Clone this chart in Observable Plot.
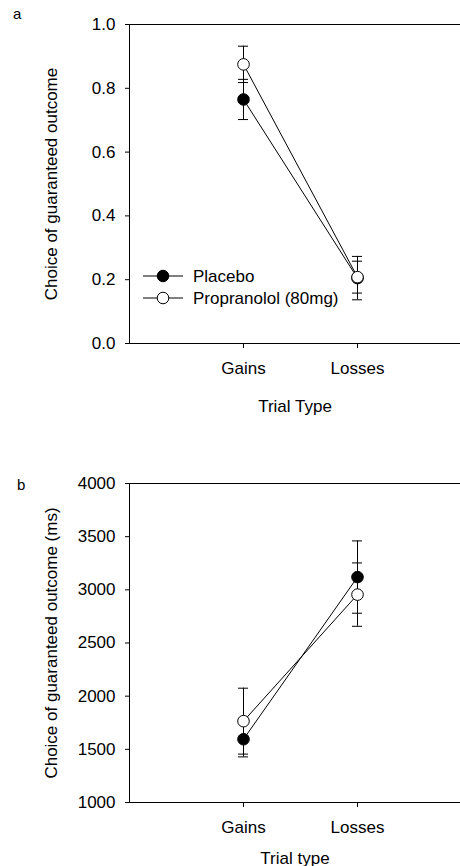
<!DOCTYPE html>
<html><head><meta charset="utf-8">
<script src="https://cdn.jsdelivr.net/npm/d3@7"></script>
<script src="https://cdn.jsdelivr.net/npm/@observablehq/plot@0.6"></script>
<style>
html,body{margin:0;padding:0;background:#fff;overflow:hidden;}
#wrap{position:relative;width:460px;height:866px;font-family:"Liberation Sans",Arial,Helvetica,sans-serif;color:#000;}
.panel{position:absolute;left:0;}
.tag{position:absolute;font-size:15px;line-height:1;}
.legend{position:absolute;left:0;top:0;pointer-events:none;}
</style></head><body><div id="wrap"></div>
<script>
// ---- data ----
const categories = ["Gains", "Losses"];
const series = ["Placebo", "Propranolol (80mg)"];
const seriesFill = ["black", "white"];

// panel a: proportion choosing guaranteed outcome
const choicePlacebo = [0.765, 0.205];
const choicePlaceboErr = [0.063, 0.068];
const choicePropranolol = [0.875, 0.208];
const choicePropranololErr = [0.057, 0.050];
const choiceTicks = [0, 0.2, 0.4, 0.6, 0.8, 1.0];

// panel b: response time (ms)
const rtPlacebo = [1595, 3120];
const rtPlaceboErr = [166, 340];
const rtPropranolol = [1765, 2955];
const rtPropranololErr = [310, 298];
const rtTicks = [1000, 1500, 2000, 2500, 3000, 3500, 4000];

function rowsFor(means, errs) {
  return means.map((m, s) => categories.map((c, i) => ({trial: c, group: series[s], si: s, mean: m[i], err: errs[s][i]}))).flat();
}

const font = '"Liberation Sans", Arial, Helvetica, sans-serif';
const capHalf = 5;

function panel({rows, yDomain, yTicks, yFormat, yLabel, xLabel, height, marginTop, marginBottom, yLabelOffset, xLabelOffset}) {
  const byS = s => rows.filter(d => d.si === s);
  const step = (471 - 129) / 3;
  const inset = step / 2 - capHalf;
  return Plot.plot({
    width: 460, height, marginLeft: 129, marginRight: 0, marginTop, marginBottom,
    style: {fontFamily: font, fontSize: "17px", color: "#000", background: "transparent", overflow: "visible"},
    x: {type: "band", domain: categories, paddingInner: 0, paddingOuter: 0.5, range: [129, 471], label: null},
    y: {domain: yDomain, label: null},
    marks: [
      Plot.frame({anchor: "top", stroke: "#000"}),
      Plot.frame({anchor: "bottom", stroke: "#000"}),
      Plot.frame({anchor: "left", stroke: "#000"}),
      Plot.axisY({ticks: yTicks, tickFormat: yFormat, tickSize: 4, tickPadding: 10, fontSize: 17,
        label: yLabel, labelAnchor: "center", labelArrow: "none", labelOffset: yLabelOffset}),
      Plot.axisX({tickSize: 5, tickPadding: 13, fontSize: 17,
        label: xLabel, labelAnchor: "center", labelArrow: "none", labelOffset: xLabelOffset}),
      Plot.ruleX(rows, {x: "trial", y1: d => d.mean - d.err, y2: d => d.mean + d.err, stroke: "#000", strokeWidth: 1}),
      Plot.tickY(rows, {x: "trial", y: d => d.mean + d.err, insetLeft: inset, insetRight: inset, stroke: "#000", strokeWidth: 1}),
      Plot.tickY(rows, {x: "trial", y: d => d.mean - d.err, insetLeft: inset, insetRight: inset, stroke: "#000", strokeWidth: 1}),
      Plot.line(rows, {x: "trial", y: "mean", z: "group", stroke: "#000", strokeWidth: 1}),
      Plot.dot(byS(0), {x: "trial", y: "mean", r: 5.8, fill: seriesFill[0], stroke: "#000", strokeWidth: 1}),
      Plot.dot(byS(1), {x: "trial", y: "mean", r: 5.8, fill: seriesFill[1], stroke: "#000", strokeWidth: 1})
    ]
  });
}

const wrap = document.getElementById("wrap");

const a = panel({
  rows: rowsFor([choicePlacebo, choicePropranolol], [choicePlaceboErr, choicePropranololErr]),
  yDomain: [0, 1], yTicks: choiceTicks, yFormat: d3.format(".1f"),
  yLabel: "Choice of guaranteed outcome", xLabel: "Trial Type",
  height: 430, marginTop: 24, marginBottom: 87, yLabelOffset: 85, xLabelOffset: 68
});
a.classList.add("panel"); a.style.top = "0px";
wrap.appendChild(a);

const b = panel({
  rows: rowsFor([rtPlacebo, rtPropranolol], [rtPlaceboErr, rtPropranololErr]),
  yDomain: [1000, 4000], yTicks: rtTicks, yFormat: d3.format("d"),
  yLabel: "Choice of guaranteed outcome (ms)", xLabel: "Trial type",
  height: 436, marginTop: 53, marginBottom: 64, yLabelOffset: 85, xLabelOffset: 61
});
b.classList.add("panel"); b.style.top = "430px";
wrap.appendChild(b);

// panel tags
[["a", 13, 6], ["b", 17, 477]].forEach(([t, x, y]) => {
  const el = document.createElement("div");
  el.className = "tag"; el.textContent = t;
  el.style.left = x + "px"; el.style.top = y + "px";
  wrap.appendChild(el);
});

// legend (inside panel a)
const leg = d3.select(wrap).append("svg").attr("class", "legend").attr("width", 460).attr("height", 430);
series.forEach((name, i) => {
  const y = 276 + i * 22;
  leg.append("line").attr("x1", 143).attr("x2", 183).attr("y1", y).attr("y2", y).attr("stroke", "#000");
  leg.append("circle").attr("cx", 163).attr("cy", y).attr("r", 5.8).attr("fill", seriesFill[i]).attr("stroke", "#000");
  leg.append("text").attr("x", 193).attr("y", y + 6).attr("font-family", font).attr("font-size", 17).text(name);
});
</script>
</body></html>
